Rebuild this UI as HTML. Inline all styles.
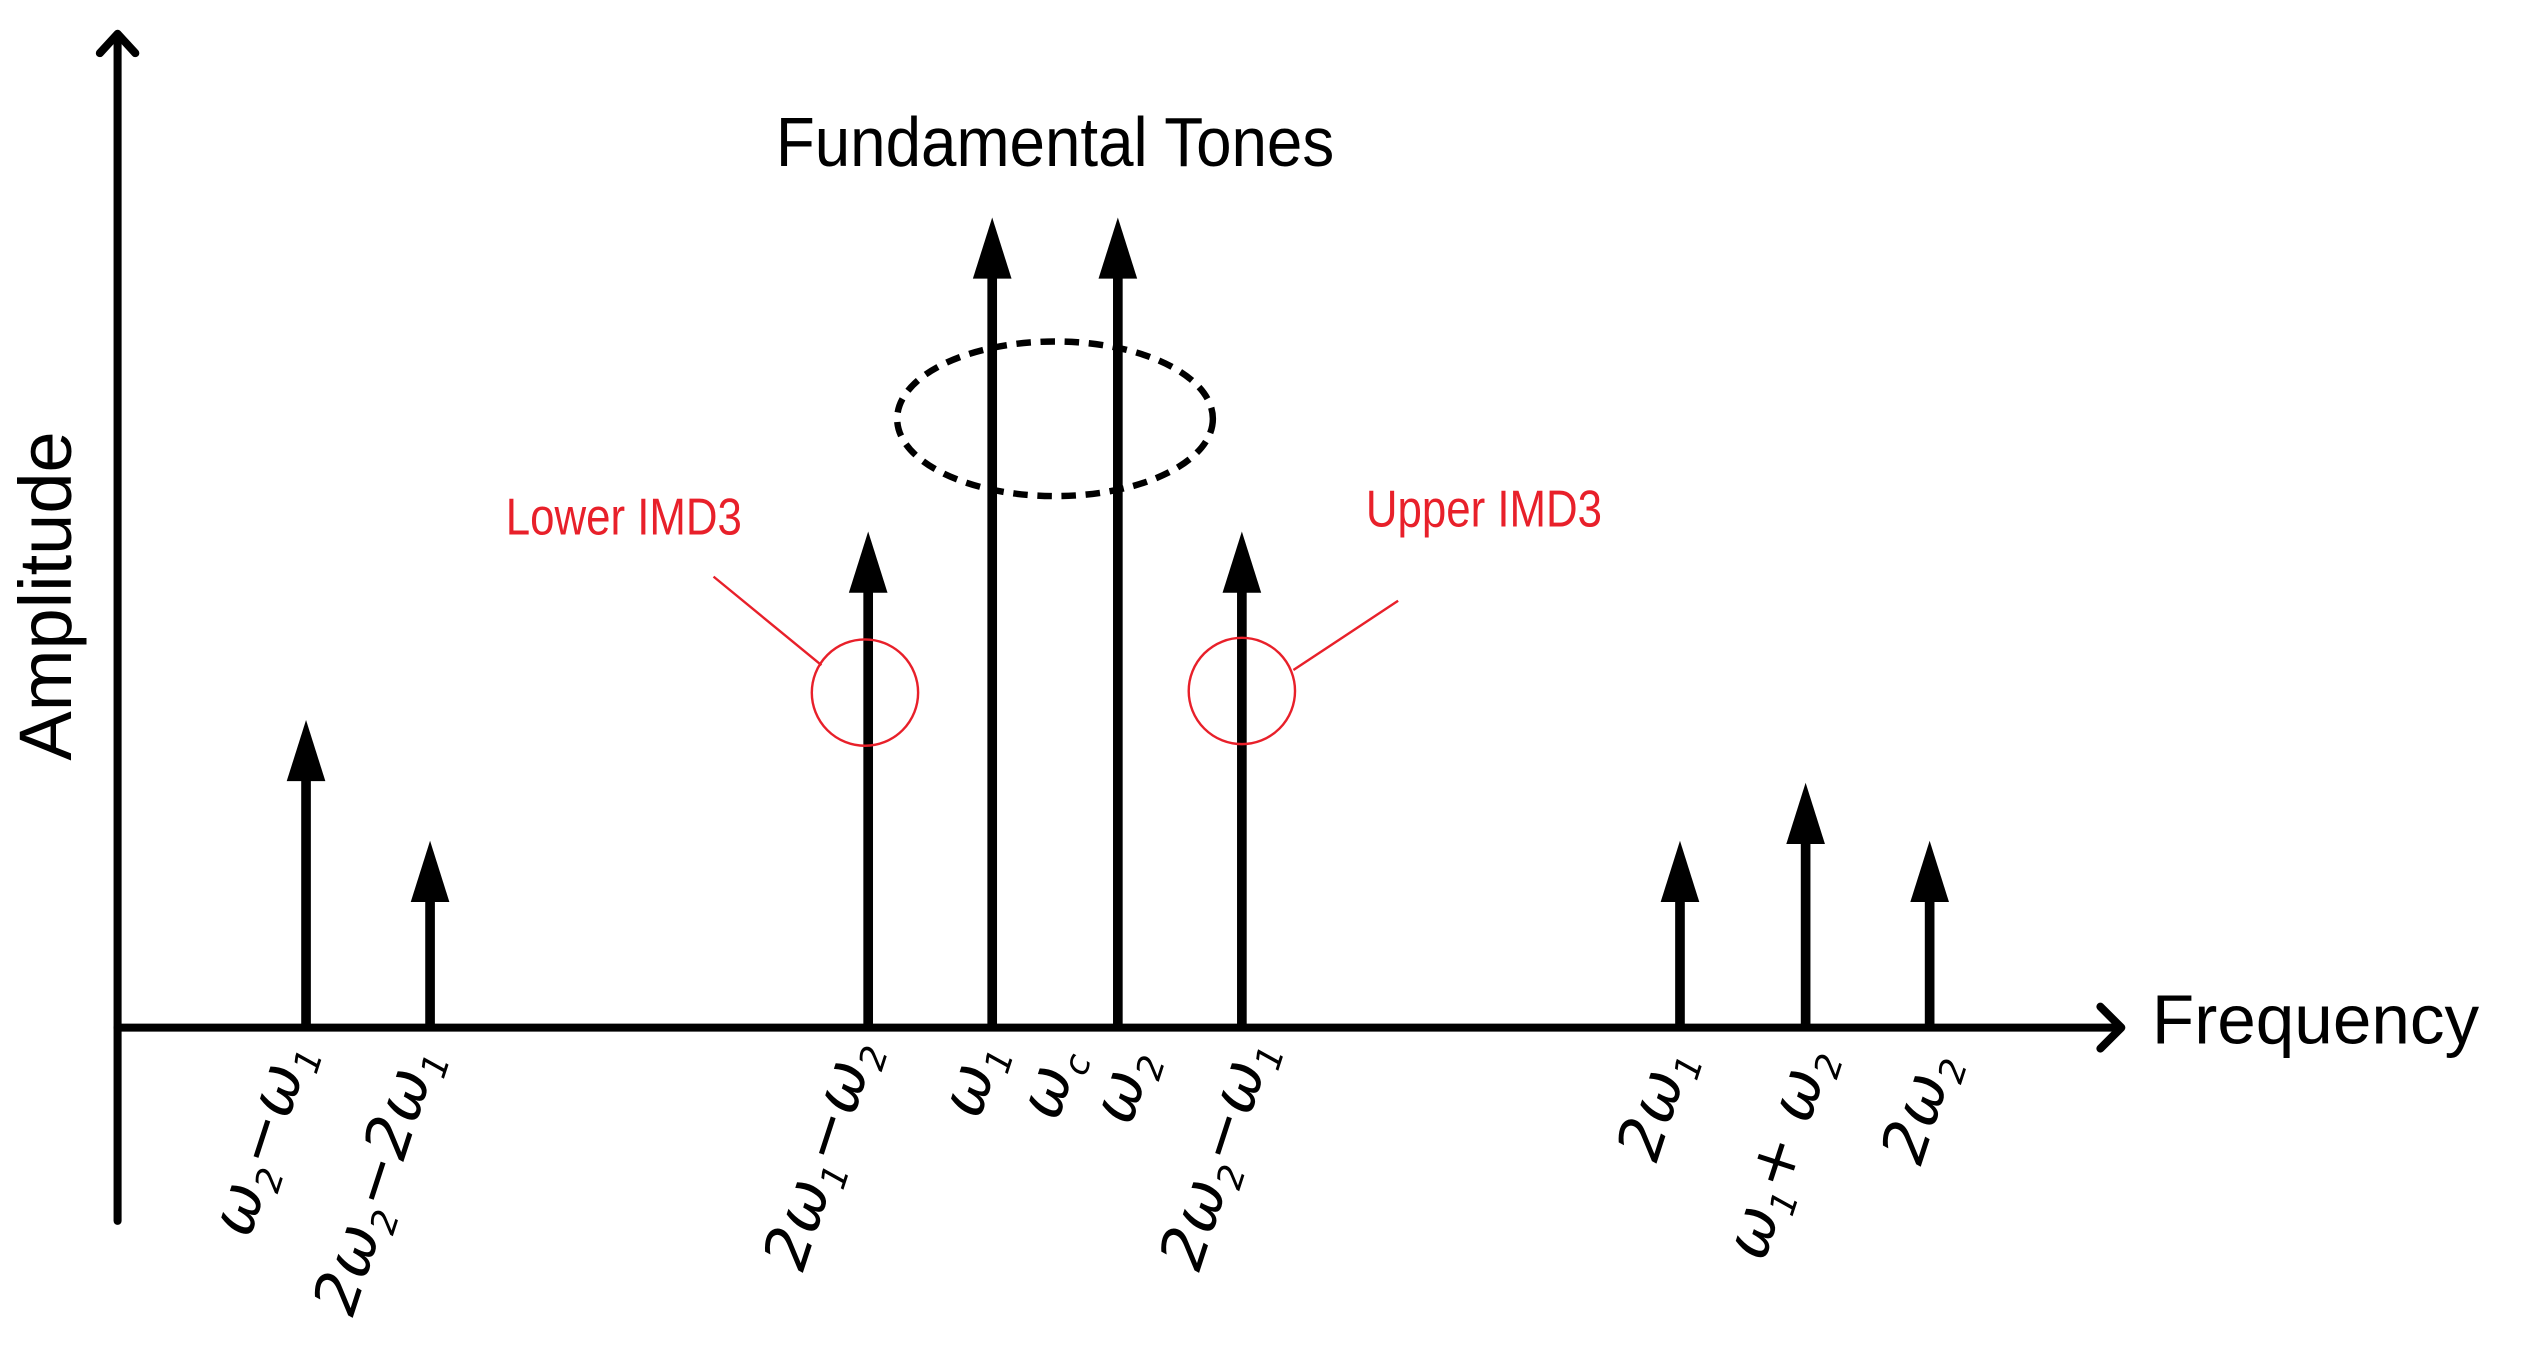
<!DOCTYPE html>
<html><head><meta charset="utf-8"><style>
html,body{margin:0;padding:0;background:#fff;}
svg{display:block;}
.lab{font-family:"DejaVu Sans","Liberation Sans",sans-serif;font-style:italic;font-size:38px;fill:#000;}
.sub{font-size:22px;}
</style></head><body>
<svg width="2524" height="1362" viewBox="0 0 1567 845.6" preserveAspectRatio="none" xmlns="http://www.w3.org/2000/svg">
<g stroke="#000" stroke-width="5" fill="none" stroke-linecap="round" stroke-linejoin="round">
<line x1="73" y1="758" x2="73" y2="22"/>
<polyline points="62,33 73,21 84,33"/>
<line x1="73" y1="638" x2="1316" y2="638"/>
<polyline points="1304,625 1317,638 1304,651"/>
</g>
<g stroke="#000" stroke-width="6">
<line x1="190" y1="638" x2="190" y2="480"/>
<line x1="267" y1="638" x2="267" y2="555"/>
<line x1="539" y1="638" x2="539" y2="365"/>
<line x1="616" y1="638" x2="616" y2="170"/>
<line x1="694" y1="638" x2="694" y2="170"/>
<line x1="771" y1="638" x2="771" y2="365"/>
<line x1="1043" y1="638" x2="1043" y2="555"/>
<line x1="1121" y1="638" x2="1121" y2="518"/>
<line x1="1198" y1="638" x2="1198" y2="555"/>
</g>
<g fill="#000">
<polygon points="190,447 178,485 202,485"/>
<polygon points="267,522 255,560 279,560"/>
<polygon points="539,330 527,368 551,368"/>
<polygon points="616,135 604,173 628,173"/>
<polygon points="694,135 682,173 706,173"/>
<polygon points="771,330 759,368 783,368"/>
<polygon points="1043,522 1031,560 1055,560"/>
<polygon points="1121,486 1109,524 1133,524"/>
<polygon points="1198,522 1186,560 1210,560"/>
</g>
<ellipse cx="655" cy="260" rx="98" ry="48" fill="none" stroke="#000" stroke-width="4" stroke-dasharray="9,6"/>
<g stroke="#e8202a" stroke-width="1.5" fill="none">
<circle cx="537" cy="430" r="33"/>
<circle cx="771" cy="429" r="33"/>
<line x1="443" y1="358" x2="510" y2="413"/>
<line x1="868" y1="373" x2="803" y2="416"/>
</g>
<text x="655" y="103" text-anchor="middle" font-family="Liberation Sans, sans-serif" font-size="43" transform="translate(655,103) scale(0.92,1) translate(-655,-103)">Fundamental Tones</text>
<text x="1336" y="648" font-family="Liberation Sans, sans-serif" font-size="43">Frequency</text>
<text transform="translate(44,370) rotate(-90)" text-anchor="middle" font-family="Liberation Sans, sans-serif" font-size="46">Amplitude</text>
<text x="314" y="332" font-family="Liberation Sans, sans-serif" font-size="32" fill="#e8202a" transform="translate(314,332) scale(0.85,1) translate(-314,-332)">Lower IMD3</text>
<text x="848" y="327" font-family="Liberation Sans, sans-serif" font-size="32" fill="#e8202a" transform="translate(848,327) scale(0.85,1) translate(-848,-327)">Upper IMD3</text>
<g class="lab" text-anchor="end">
<text transform="translate(193,652) rotate(-72)">ω<tspan class="sub" dy="8">2</tspan><tspan dy="-8">−ω</tspan><tspan class="sub" dy="8">1</tspan></text>
<text transform="translate(272,655) rotate(-72)">2ω<tspan class="sub" dy="8">2</tspan><tspan dy="-8">−2ω</tspan><tspan class="sub" dy="8">1</tspan></text>
<text transform="translate(544,650) rotate(-72)">2ω<tspan class="sub" dy="8">1</tspan><tspan dy="-8">−ω</tspan><tspan class="sub" dy="8">2</tspan></text>
<text transform="translate(622,652) rotate(-72)">ω<tspan class="sub" dy="8">1</tspan></text>
<text transform="translate(670,655) rotate(-72)">ω<tspan class="sub" dy="8">c</tspan></text>
<text transform="translate(716,656) rotate(-72)">ω<tspan class="sub" dy="8">2</tspan></text>
<text transform="translate(790,650) rotate(-72)">2ω<tspan class="sub" dy="8">2</tspan><tspan dy="-8">−ω</tspan><tspan class="sub" dy="8">1</tspan></text>
<text transform="translate(1050,656) rotate(-72)">2ω<tspan class="sub" dy="8">1</tspan></text>
<text transform="translate(1137,655) rotate(-72)">ω<tspan class="sub" dy="8">1</tspan><tspan dy="-8">+ ω</tspan><tspan class="sub" dy="8">2</tspan></text>
<text transform="translate(1214,658) rotate(-72)">2ω<tspan class="sub" dy="8">2</tspan></text>
</g>
</svg>
</body></html>
